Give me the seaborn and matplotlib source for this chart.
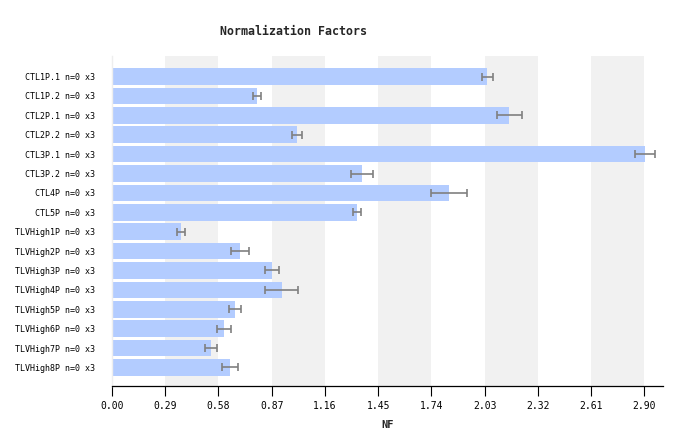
import matplotlib
matplotlib.use("Agg")
import matplotlib.pyplot as plt
import pandas as pd
import seaborn as sns

# values
samples = [
    'CTL1P.1', 'CTL1P.2', 'CTL2P.1', 'CTL2P.2', 'CTL3P.1', 'CTL3P.2',
    'CTL4P', 'CTL5P', 'TLVHigh1P', 'TLVHigh2P', 'TLVHigh3P', 'TLVHigh4P',
    'TLVHigh5P', 'TLVHigh6P', 'TLVHigh7P', 'TLVHigh8P'
]
nf_values = [2.045, 0.790, 2.165, 1.008, 2.902, 1.363, 1.838, 1.336,
             0.375, 0.697, 0.872, 0.926, 0.670, 0.610, 0.539, 0.643]
nf_errors = [0.030, 0.022, 0.068, 0.025, 0.055, 0.060, 0.098, 0.022,
             0.022, 0.049, 0.040, 0.090, 0.033, 0.038, 0.035, 0.043]
x_ticks = [0.00, 0.29, 0.58, 0.87, 1.16, 1.45, 1.74, 2.03, 2.32, 2.61, 2.90]

df = pd.DataFrame({
    'label': [f'{s} n=0 x3' for s in samples],
    'NF': nf_values,
    'err': nf_errors,
})

sns.set_style('white')
plt.rcParams['font.family'] = ['DejaVu Sans Mono', 'DejaVu Sans']

fig = plt.figure(figsize=(6.82, 4.46), dpi=100)
ax = fig.add_axes([0.1642, 0.1345, 0.8075, 0.7399])

# alternating background bands
for i in range(1, len(x_ticks) - 1, 2):
    ax.axvspan(x_ticks[i], x_ticks[i + 1], color='#f1f1f1', zorder=0, lw=0)

sns.barplot(data=df, x='NF', y='label', orient='h', color='#b3ccff',
            saturation=1, width=0.86, errorbar=None, linewidth=0, ax=ax,
            zorder=2)
ax.errorbar(df['NF'], range(len(df)), xerr=df['err'], fmt='none',
            ecolor='#808080', elinewidth=1.2, capsize=3.2, capthick=1.2,
            zorder=3)

ax.set_xlim(0, 3.0)
ax.set_ylim(15.96, -1.06)
ax.set_xticks(x_ticks)
ax.set_xticklabels([f'{t:.2f}' for t in x_ticks], fontsize=7)
ax.tick_params(axis='x', bottom=True, length=7, width=0.8, pad=4,
               color='black', labelcolor='black')
ax.tick_params(axis='y', left=False, pad=8.4, labelsize=6, labelcolor='black')
ax.set_ylabel('')
ax.set_xlabel('NF', fontsize=7.5, fontweight='bold', labelpad=6)

for side in ['top', 'right']:
    ax.spines[side].set_visible(False)
ax.spines['left'].set_color('#eeeeee')
ax.spines['left'].set_linewidth(1)
ax.spines['bottom'].set_color('black')
ax.spines['bottom'].set_linewidth(0.9)
ax.spines['bottom'].set_bounds(0, 3.0)

fig.text(0.43, 0.930, 'Normalization Factors', ha='center', va='center',
         fontsize=8.4, fontweight='bold')

fig.savefig('out.png', dpi=100)
